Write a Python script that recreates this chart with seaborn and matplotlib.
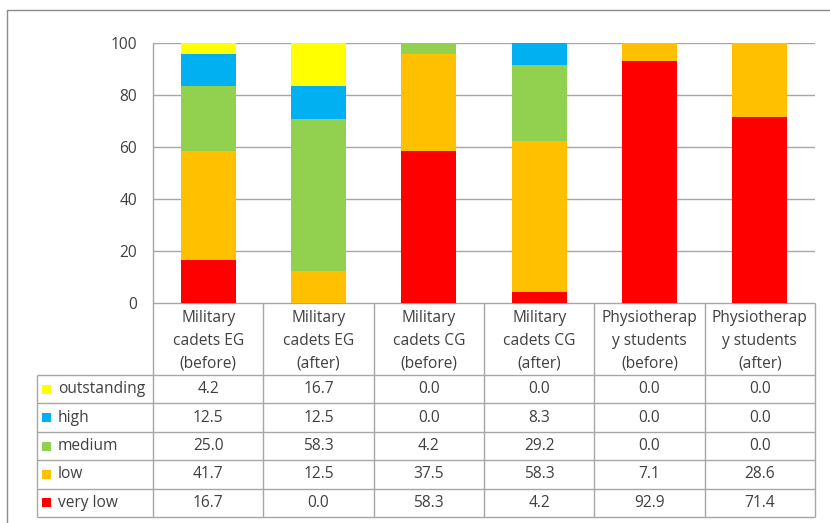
import matplotlib
matplotlib.use("Agg")
import matplotlib.pyplot as plt
import seaborn as sns
import numpy as np
import pandas as pd

groups = ["Military\ncadets EG\n(before)", "Military\ncadets EG\n(after)",
          "Military\ncadets CG\n(before)", "Military\ncadets CG\n(after)",
          "Physiotherap\ny students\n(before)", "Physiotherap\ny students\n(after)"]
levels = ["outstanding", "high", "medium", "low", "very low"]
outstanding = [4.2, 16.7, 0.0, 0.0, 0.0, 0.0]
high = [12.5, 12.5, 0.0, 8.3, 0.0, 0.0]
medium = [25.0, 58.3, 4.2, 29.2, 0.0, 0.0]
low = [41.7, 12.5, 37.5, 58.3, 7.1, 28.6]
very_low = [16.7, 0.0, 58.3, 4.2, 92.9, 71.4]
colors = ["#FFFF00", "#00B0F0", "#92D050", "#FFC000", "#FF0000"]
yticks = [0, 20, 40, 60, 80, 100]

series = [outstanding, high, medium, low, very_low]

sns.set_theme(style="white")
plt.rcParams['font.family'] = ['Open Sans', 'DejaVu Sans']
FS = 11.2
TXT = "#404040"
GRID = "#A6A6A6"

W, H = 830, 523
fig = plt.figure(figsize=(W / 100, H / 100), dpi=100)

# overlay axes in pixel coordinates for table and border
axt = fig.add_axes([0, 0, 1, 1])
axt.set_xlim(0, W)
axt.set_ylim(H, 0)
axt.axis("off")
axt.patch.set_alpha(0)

X0, X1, YTOP, YBOT = 153, 815, 43, 303
ax = fig.add_axes([X0 / W, 1 - YBOT / H, (X1 - X0) / W, (YBOT - YTOP) / H])
ax.patch.set_alpha(0)

# stacked bars: draw cumulative totals, top layer first
cum = np.zeros(len(groups))
cums = {}
for i in range(len(levels) - 1, -1, -1):  # very low at bottom
    cum = cum + np.array(series[i])
    cums[i] = cum.copy()
for i in range(len(levels)):  # outstanding (highest cumulative) first
    d = pd.DataFrame({"group": groups, "value": cums[i]})
    sns.barplot(data=d, x="group", y="value", color=colors[i], width=0.5,
                saturation=1, ax=ax, zorder=3, edgecolor="none", linewidth=0)

ax.set_ylim(0, 100)
ax.set_xlim(-0.5, len(groups) - 0.5)
ax.set_yticks(yticks)
ax.set_yticklabels([str(t) for t in yticks], fontsize=FS, color=TXT)
ax.set_xticks([])
ax.set_xlabel("")
ax.set_ylabel("")
for t in yticks[1:]:
    ax.axhline(t, color=GRID, lw=1, zorder=1)
for s in ["top", "right", "bottom"]:
    ax.spines[s].set_visible(False)
ax.spines["left"].set_color(GRID)
ax.spines["left"].set_linewidth(1)
ax.tick_params(axis="y", length=0, pad=11.5, left=False)

# data table
n = len(groups)
colw = (X1 - X0) / n
hdr_bot = 375
row_h = (517 - hdr_bot) / len(levels)
LX = 37
lines_kw = dict(color=GRID, lw=1, solid_capstyle="butt")
axt.plot([X0, X1], [YBOT, YBOT], **lines_kw)
for r in range(len(levels) + 1):
    y = hdr_bot + r * row_h
    axt.plot([LX, X1], [y, y], **lines_kw)
axt.plot([LX, LX], [hdr_bot, 517], **lines_kw)
for c in range(n + 1):
    x = X0 + c * colw
    axt.plot([x, x], [YBOT, 517], **lines_kw)
for c, g in enumerate(groups):
    axt.text(X0 + (c + 0.5) * colw, (YBOT + hdr_bot) / 2 + 2, g, ha="center", va="center",
             fontsize=FS, color=TXT, linespacing=1.55)
for r, lev in enumerate(levels):
    yc = hdr_bot + (r + 0.5) * row_h
    axt.add_patch(plt.Rectangle((42, yc - 4.5), 9, 9, color=colors[r], lw=0))
    axt.text(58, yc, lev, ha="left", va="center", fontsize=FS, color=TXT)
    for c in range(n):
        axt.text(X0 + (c + 0.5) * colw, yc, f"{series[r][c]:.1f}", ha="center", va="center",
                 fontsize=FS, color=TXT)

# outer chart border
axt.plot([7, 7], [10, H], color="#8C8C8C", lw=1)
axt.plot([7, W], [10, 10], color="#8C8C8C", lw=1)

fig.savefig("out.png", dpi=100)
